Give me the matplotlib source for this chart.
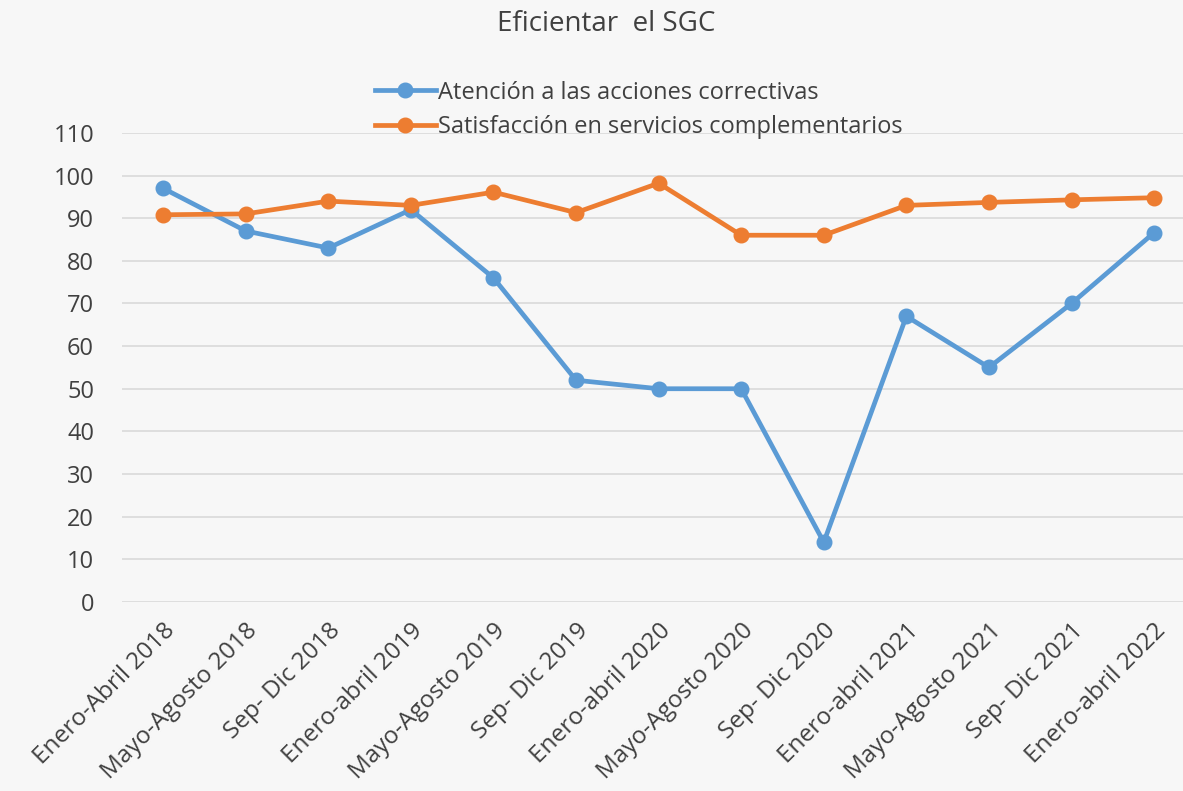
import numpy as np
import matplotlib.pyplot as plt

plt.rcParams['font.family'] = ['Open Sans', 'DejaVu Sans']

periodos = ['Enero-Abril 2018', 'Mayo-Agosto 2018', 'Sep- Dic 2018', 'Enero-abril 2019',
            'Mayo-Agosto 2019', 'Sep- Dic 2019', 'Enero-abril 2020', 'Mayo-Agosto 2020',
            'Sep- Dic 2020', 'Enero-abril 2021', 'Mayo-Agosto 2021', 'Sep- Dic 2021',
            'Enero-abril 2022']
acciones = [97, 87, 83, 92, 76, 52, 50, 50, 14, 67, 55, 70, 86.6]
satisfaccion = [90.8, 91, 94, 93, 96.1, 91.3, 98.2, 86, 86, 93, 93.7, 94.3, 94.8]
yticks = list(range(0, 111, 10))

fig = plt.figure(figsize=(11.83, 7.91), dpi=100, facecolor='#f7f7f7')
ax = fig.add_axes([0.103, 0.239, 0.897, 0.593])
ax.set_facecolor('none')

x = np.arange(len(periodos))
ax.plot(x, acciones, color='#5B9BD5', lw=3.4, marker='o', ms=10.5,
        label='Atención a las acciones correctivas', zorder=3)
ax.plot(x, satisfaccion, color='#ED7D31', lw=3.4, marker='o', ms=10.5,
        label='Satisfacción en servicios complementarios', zorder=3)

ax.set_ylim(0, 110)
ax.set_xlim(-0.5, 12.35)
ax.set_yticks(yticks)
ax.set_xticks(x)
ax.set_xticklabels(periodos, rotation=45, ha='right', rotation_mode='anchor')
ax.tick_params(axis='both', length=0, labelsize=17, colors='#404040')
ax.tick_params(axis='x', pad=12, labelsize=17.5)
ax.tick_params(axis='y', pad=20)
ax.grid(axis='y', color='#d9d9d9', lw=1.2)
ax.set_axisbelow(True)
for s in ax.spines.values():
    s.set_visible(False)

fig.text(0.512, 0.97, 'Eficientar  el SGC', ha='center', va='center',
         fontsize=20, color='#404040')
fig.legend(loc='center', bbox_to_anchor=(0.54, 0.861), frameon=False,
           fontsize=17, labelcolor='#404040', handlelength=2.6,
           handletextpad=0.1, labelspacing=0.45)

fig.savefig('out.png', dpi=100, facecolor=fig.get_facecolor())
